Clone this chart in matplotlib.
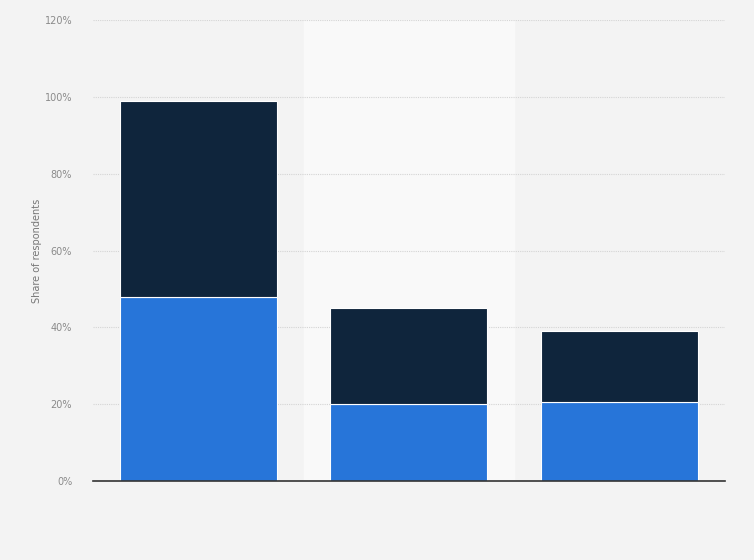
import matplotlib.pyplot as plt
import numpy as np

# values (share of respondents, %)
categories = ['', '', '']
lower_share = [48, 20, 20.5]
upper_share = [51, 25, 18.5]
y_ticks = [0, 20, 40, 60, 80, 100, 120]

fig = plt.figure(figsize=(7.54, 5.60), dpi=100)
fig.patch.set_facecolor('#f3f3f3')
ax = fig.add_axes([0.1233, 0.141, 0.8382, 0.823])
ax.set_facecolor('#f3f3f3')

x = np.arange(len(categories))
ax.axvspan(0.5, 1.5, color='#f9f9f9', zorder=0)

ax.bar(x, lower_share, width=0.745, color='#2775d9', edgecolor='white',
       linewidth=0.8, zorder=3)
ax.bar(x, upper_share, width=0.745, bottom=lower_share, color='#0f253c',
       edgecolor='white', linewidth=0.8, zorder=3)

ax.set_xlim(-0.5, len(categories) - 0.5)
ax.set_ylim(0, 120)
ax.set_yticks(y_ticks)
ax.set_yticklabels([f'{t}%' for t in y_ticks], color='#8a8a8a', fontsize=7)
ax.set_xticks(x)
ax.set_xticklabels(categories)
ax.tick_params(axis='both', length=0)
ax.tick_params(axis='y', pad=15)

ax.grid(axis='y', color='#d4d4d4', linestyle=(0, (1, 1)), linewidth=0.8, zorder=1)
for side in ['top', 'right', 'left']:
    ax.spines[side].set_visible(False)
ax.spines['bottom'].set_color('#333333')
ax.spines['bottom'].set_linewidth(1.2)
ax.spines['bottom'].set_zorder(4)

ax.set_ylabel('Share of respondents', color='#777777', fontsize=7, labelpad=2)

plt.savefig('out.png', dpi=100, facecolor=fig.get_facecolor())
